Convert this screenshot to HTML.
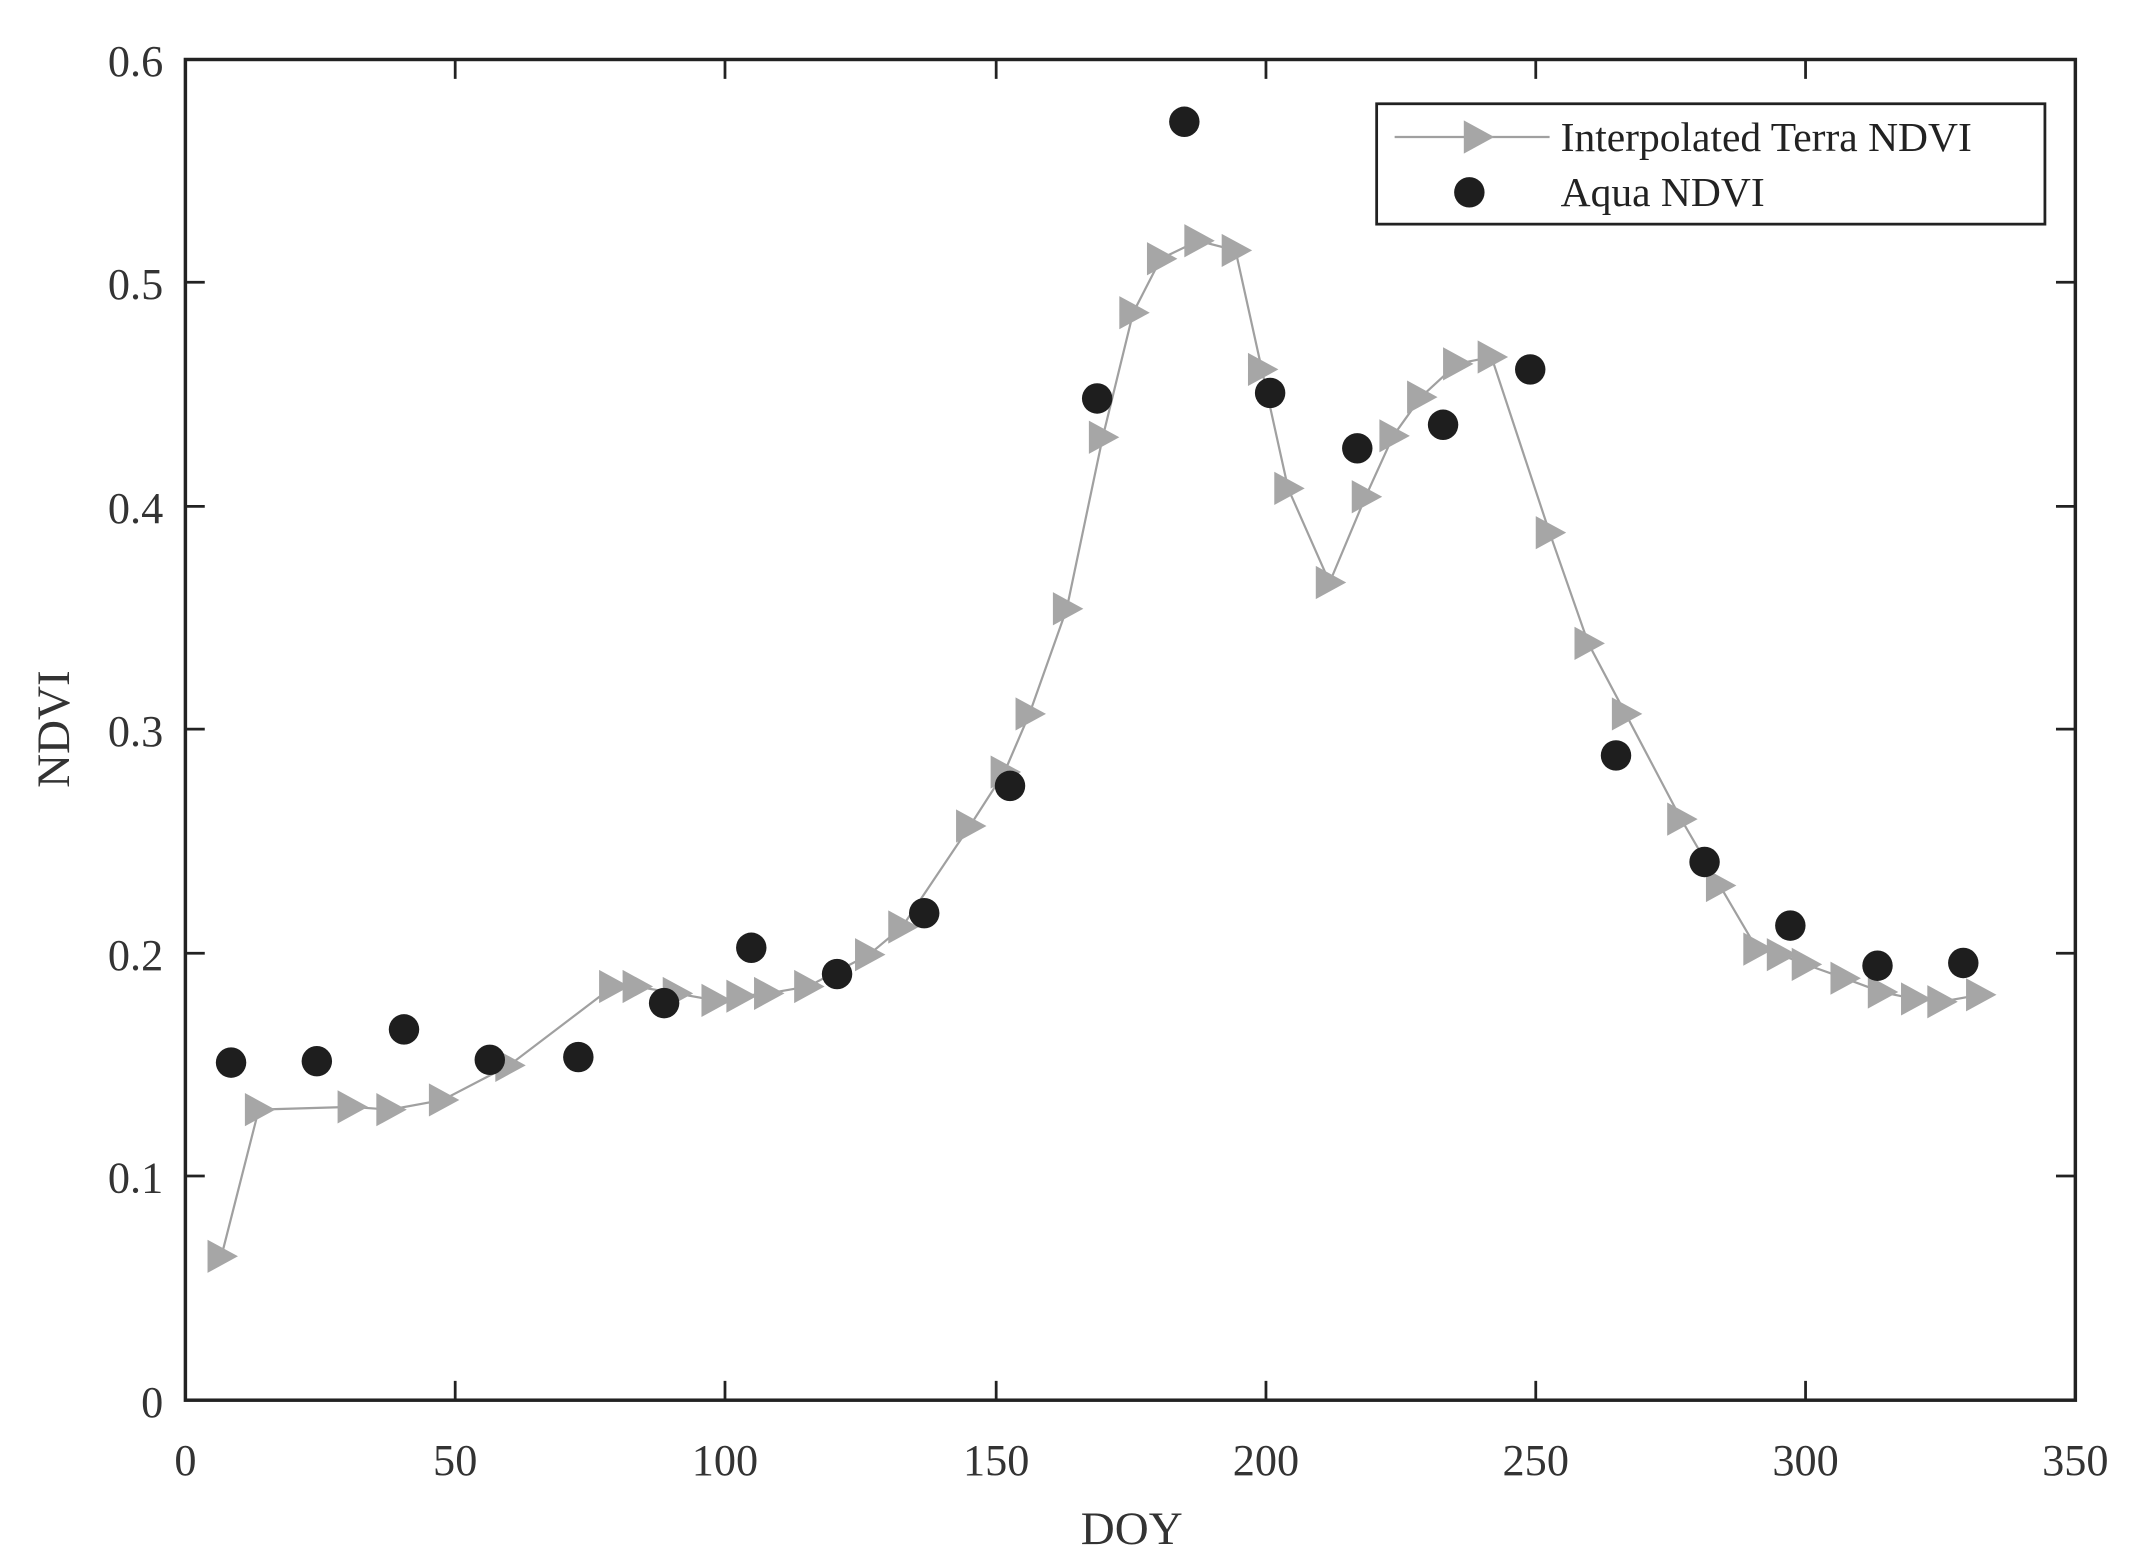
<!DOCTYPE html>
<html><head><meta charset="utf-8"><style>html,body{margin:0;padding:0;background:#fff}svg{display:block}</style></head>
<body>
<svg width="2139" height="1560" viewBox="0 0 1546 1127.5" preserveAspectRatio="none" xmlns="http://www.w3.org/2000/svg" font-family="Liberation Serif, serif">
<rect width="1546" height="1127.5" fill="#fff"/>
<defs>
<path id="tri" d="M-10,-12 L12,0 L-10,12 Z" fill="#a6a6a6"/>
</defs>
<polyline fill="none" stroke="#a0a0a0" stroke-width="1.6" points="160,908 187,802 254,800 282,802 320,795 368,770 443,713 460,713 489,718 517,723 535,720 555,718 584,713 628,690 652,670 701,597 726,558 744,516 771,440 797,316 819,226 839,187 866,174 893,181 912,267 931,353 961,421 987,359 1007,315 1027,287 1053,263 1078,258 1120,385 1148,465 1175,516 1215,592 1243,640 1270,686 1287,690 1305,697 1333,707 1360,717 1384,722 1403,724 1431,719"/>
<g>
<use href="#tri" x="160" y="908"/><use href="#tri" x="187" y="802"/><use href="#tri" x="254" y="800"/><use href="#tri" x="282" y="802"/><use href="#tri" x="320" y="795"/><use href="#tri" x="368" y="770"/><use href="#tri" x="443" y="713"/><use href="#tri" x="460" y="713"/><use href="#tri" x="489" y="718"/><use href="#tri" x="517" y="723"/><use href="#tri" x="535" y="720"/><use href="#tri" x="555" y="718"/><use href="#tri" x="584" y="713"/><use href="#tri" x="628" y="690"/><use href="#tri" x="652" y="670"/><use href="#tri" x="701" y="597"/><use href="#tri" x="726" y="558"/><use href="#tri" x="744" y="516"/><use href="#tri" x="771" y="440"/><use href="#tri" x="797" y="316"/><use href="#tri" x="819" y="226"/><use href="#tri" x="839" y="187"/><use href="#tri" x="866" y="174"/><use href="#tri" x="893" y="181"/><use href="#tri" x="912" y="267"/><use href="#tri" x="931" y="353"/><use href="#tri" x="961" y="421"/><use href="#tri" x="987" y="359"/><use href="#tri" x="1007" y="315"/><use href="#tri" x="1027" y="287"/><use href="#tri" x="1053" y="263"/><use href="#tri" x="1078" y="258"/><use href="#tri" x="1120" y="385"/><use href="#tri" x="1148" y="465"/><use href="#tri" x="1175" y="516"/><use href="#tri" x="1215" y="592"/><use href="#tri" x="1243" y="640"/><use href="#tri" x="1270" y="686"/><use href="#tri" x="1287" y="690"/><use href="#tri" x="1305" y="697"/><use href="#tri" x="1333" y="707"/><use href="#tri" x="1360" y="717"/><use href="#tri" x="1384" y="722"/><use href="#tri" x="1403" y="724"/><use href="#tri" x="1431" y="719"/>
</g>
<g fill="#1e1e1e">
<circle cx="167" cy="768" r="11"/><circle cx="229" cy="767" r="11"/><circle cx="292" cy="744" r="11"/><circle cx="354" cy="766" r="11"/><circle cx="418" cy="764" r="11"/><circle cx="480" cy="725" r="11"/><circle cx="543" cy="685" r="11"/><circle cx="605" cy="704" r="11"/><circle cx="668" cy="660" r="11"/><circle cx="730" cy="568" r="11"/><circle cx="793" cy="288" r="11"/><circle cx="856" cy="88" r="11"/><circle cx="918" cy="284" r="11"/><circle cx="981" cy="324" r="11"/><circle cx="1043" cy="307" r="11"/><circle cx="1106" cy="267" r="11"/><circle cx="1168" cy="546" r="11"/><circle cx="1232" cy="623" r="11"/><circle cx="1294" cy="669" r="11"/><circle cx="1357" cy="698" r="11"/><circle cx="1419" cy="696" r="11"/>
</g>
<rect x="134" y="43" width="1366" height="969" fill="none" stroke="#222" stroke-width="2.5"/>
<g stroke="#222" stroke-width="2">
<path d="M329,1012v-14M524,1012v-14M720,1012v-14M915,1012v-14M1110,1012v-14M1305,1012v-14"/>
<path d="M329,43v14M524,43v14M720,43v14M915,43v14M1110,43v14M1305,43v14"/>
<path d="M134,850h14M134,689h14M134,527h14M134,366h14M134,204h14"/>
<path d="M1500,850h-14M1500,689h-14M1500,527h-14M1500,366h-14M1500,204h-14"/>
</g>
<g font-size="32" fill="#333" text-anchor="end">
<text x="118" y="1024">0</text><text x="118" y="862">0.1</text><text x="118" y="701">0.2</text><text x="118" y="539">0.3</text><text x="118" y="378">0.4</text><text x="118" y="216">0.5</text><text x="118" y="55">0.6</text>
</g>
<g font-size="32" fill="#333" text-anchor="middle">
<text x="134" y="1066">0</text><text x="329" y="1066">50</text><text x="524" y="1066">100</text><text x="720" y="1066">150</text><text x="915" y="1066">200</text><text x="1110" y="1066">250</text><text x="1305" y="1066">300</text><text x="1500" y="1066">350</text>
</g>
<text x="818" y="1116" font-size="34" fill="#333" text-anchor="middle">DOY</text>
<text transform="translate(50,527) rotate(-90)" font-size="34" fill="#333" text-anchor="middle">NDVI</text>
<rect x="995" y="75" width="483" height="87" fill="#fff" stroke="#222" stroke-width="2"/>
<line x1="1008" y1="99" x2="1120" y2="99" stroke="#a0a0a0" stroke-width="1.6"/>
<use href="#tri" x="1068" y="99"/>
<circle cx="1062" cy="139" r="11" fill="#1e1e1e"/>
<g font-size="30" fill="#222">
<text x="1128" y="109">Interpolated Terra NDVI</text>
<text x="1128" y="149">Aqua NDVI</text>
</g>
</svg>
</body></html>
